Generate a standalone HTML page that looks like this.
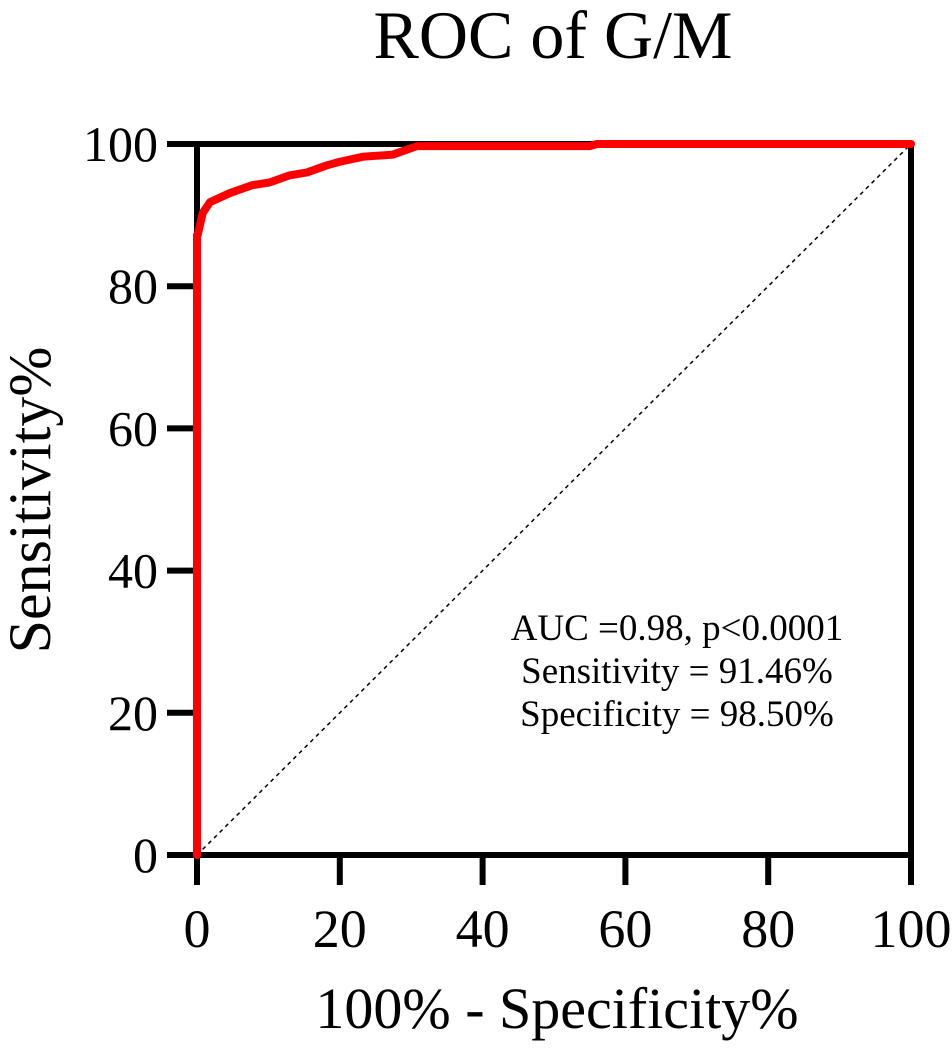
<!DOCTYPE html>
<html><head><meta charset="utf-8"><style>
body{margin:0;background:#fff}
svg text{font-family:"Liberation Serif",serif;fill:#000}
</style></head><body>
<svg width="952" height="1045">
<text x="553" y="58" font-size="68" text-anchor="middle">ROC of G/M</text>
<g id="plot"></g>
<text x="557" y="1028" font-size="58" text-anchor="middle">100% - Specificity%</text>
<text transform="translate(50,500) rotate(-90)" font-size="60" text-anchor="middle">Sensitivity%</text>
<g font-size="37" text-anchor="middle">
<text x="677" y="640">AUC =0.98, p&lt;0.0001</text>
<text x="677" y="683">Sensitivity = 91.46%</text>
<text x="677" y="726">Specificity = 98.50%</text>
</g>
</svg>
<script>
const xTicks=[0,20,40,60,80,100];
const yTicks=[0,20,40,60,80,100];
const rocX=[0,0,0.1,0.8,1.8,4.6,7.7,10.2,13,15.4,18.2,20,23.2,27.4,30.8,40,55,56,100];
const rocY=[0,87.2,87.2,90.3,91.8,93.1,94.2,94.6,95.6,96,97,97.5,98.2,98.5,99.7,99.7,99.7,100,100];
const X0=197,X1=911,Y0=855,Y1=144;
const sx=v=>X0+(X1-X0)*v/100, sy=v=>Y0-(Y0-Y1)*v/100;
const g=document.getElementById('plot');const NS='http://www.w3.org/2000/svg';
function mk(t,a){const e=document.createElementNS(NS,t);for(const k in a)e.setAttribute(k,a[k]);g.appendChild(e);return e;}
let e=mk('rect',{x:X0,y:Y1,width:X1-X0,height:Y0-Y1,fill:'none',stroke:'#000','stroke-width':6});


xTicks.forEach(t=>{
 let l=mk('line',{x1:sx(t),x2:sx(t),y1:Y0,y2:Y0+30,stroke:'#000','stroke-width':6});
 
 
 let tx=mk('text',{x:sx(t),y:947,'font-size':54,'text-anchor':'middle'});tx.textContent=t;
 
 
});
yTicks.forEach(t=>{
 let l=mk('line',{x1:X0-30,x2:X0,y1:sy(t),y2:sy(t),stroke:'#000','stroke-width':6});
 
 
 let tx=mk('text',{x:X0-39,y:sy(t)+17,'font-size':50,'text-anchor':'end'});tx.textContent=t;
 
 
});
let d=mk('line',{x1:sx(0),y1:sy(0),x2:sx(100),y2:sy(100),stroke:'#000','stroke-width':1.5,'stroke-dasharray':'4,4'});


let p='';rocX.forEach((x,i)=>{p+=(i?'L':'M')+sx(x)+','+sy(rocY[i]);});
let c=mk('path',{d:p,fill:'none',stroke:'#f00','stroke-width':8,'stroke-linejoin':'round','stroke-linecap':'round'});


</script>
</body></html>
